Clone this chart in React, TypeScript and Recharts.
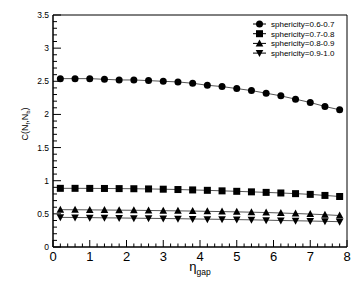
import React from "react";
import { LineChart, Line, XAxis, YAxis, ReferenceArea } from "recharts";

const etaGap = [0.2, 0.6, 1.0, 1.4, 1.8, 2.2, 2.6, 3.0, 3.4, 3.8, 4.2, 4.6, 5.0, 5.4, 5.8, 6.2, 6.6, 7.0, 7.4, 7.8];
const sph0607 = [2.54, 2.54, 2.54, 2.53, 2.52, 2.52, 2.51, 2.5, 2.49, 2.47, 2.44, 2.42, 2.39, 2.36, 2.32, 2.28, 2.23, 2.18, 2.12, 2.07];
const sph0708 = [0.885, 0.885, 0.884, 0.883, 0.881, 0.879, 0.876, 0.872, 0.867, 0.861, 0.855, 0.847, 0.84, 0.832, 0.824, 0.815, 0.805, 0.794, 0.778, 0.762];
const sph0809 = [0.563, 0.562, 0.56, 0.558, 0.556, 0.554, 0.551, 0.548, 0.545, 0.542, 0.538, 0.534, 0.53, 0.525, 0.52, 0.513, 0.505, 0.497, 0.487, 0.475];
const sph0910 = [0.447, 0.445, 0.443, 0.44, 0.438, 0.435, 0.432, 0.43, 0.427, 0.423, 0.42, 0.417, 0.413, 0.41, 0.405, 0.4, 0.396, 0.392, 0.387, 0.382];

const seriesNames = ["sphericity=0.6-0.7", "sphericity=0.7-0.8", "sphericity=0.8-0.9", "sphericity=0.9-1.0"];
const seriesKeys = ["s1", "s2", "s3", "s4"];
const seriesShapes = ["circle", "square", "triangle", "triangleDown"];

const xMajor = [0, 1, 2, 3, 4, 5, 6, 7, 8];
const yMajor = [0, 0.5, 1, 1.5, 2, 2.5, 3, 3.5];
const xTicks = Array.from({ length: 41 }, (_, i) => Number((i * 0.2).toFixed(1)));
const yTicks = Array.from({ length: 36 }, (_, i) => Number((i * 0.1).toFixed(1)));

const data = etaGap.map((x, i) => ({
  x,
  s1: sph0607[i],
  s2: sph0708[i],
  s3: sph0809[i],
  s4: sph0910[i],
}));

const FONT = "'Liberation Sans', Arial, Helvetica, sans-serif";
const LINE_COLOR = "#555";

function MarkerShape({ cx, cy, shape }: { cx: number; cy: number; shape: string }) {
  const r = 3.5;
  if (shape === "circle") return <circle cx={cx} cy={cy} r={r} fill="#000" />;
  if (shape === "square") return <rect x={cx - 3.5} y={cy - 3.5} width={7} height={7} fill="#000" />;
  if (shape === "triangle")
    return <polygon points={`${cx},${cy - 4} ${cx - 3.8},${cy + 3} ${cx + 3.8},${cy + 3}`} fill="#000" />;
  return <polygon points={`${cx},${cy + 4} ${cx - 3.8},${cy - 3} ${cx + 3.8},${cy - 3}`} fill="#000" />;
}

const makeDot = (shape: string) => (props: any) => {
  const { cx, cy, index } = props;
  if (cx == null || cy == null) return <g key={`d-${shape}-${index}`} />;
  return (
    <g key={`d-${shape}-${index}`}>
      <MarkerShape cx={cx} cy={cy} shape={shape} />
    </g>
  );
};

const XTick = (props: any) => {
  const { x, y, payload } = props;
  const v = payload.value;
  const major = xMajor.some((m) => Math.abs(m - v) < 1e-6);
  return (
    <g>
      <line x1={x} y1={y} x2={x} y2={y - (major ? 7 : 3.5)} stroke="#000" strokeWidth={1} />
      {major && (
        <text x={x} y={y + 14} textAnchor="middle" fontSize={13} fontFamily={FONT} fill="#000">
          {String(v)}
        </text>
      )}
    </g>
  );
};

const YTick = (props: any) => {
  const { x, y, payload } = props;
  const v = payload.value;
  const major = yMajor.some((m) => Math.abs(m - v) < 1e-6);
  return (
    <g>
      <line x1={x} y1={y} x2={x + (major ? 8 : 4)} y2={y} stroke="#000" strokeWidth={1} />
      {major && (
        <text x={x - 4} y={y + 3} textAnchor="end" fontSize={8.5} fontFamily={FONT} fill="#000">
          {String(v)}
        </text>
      )}
    </g>
  );
};

const YLabel = () => (
  <text transform="translate(28,124) rotate(-90)" textAnchor="middle" fontSize={9} fontFamily={FONT} fill="#000">
    <tspan>C(N</tspan>
    <tspan dy={2} fontSize={6}>f</tspan>
    <tspan dy={-2}>,N</tspan>
    <tspan dy={2} fontSize={6}>b</tspan>
    <tspan dy={-2}>)</tspan>
  </text>
);

const XLabel = () => (
  <text x={200} y={271} textAnchor="middle" fontFamily={FONT} fill="#000" fontSize={13}>
    <tspan>η</tspan>
    <tspan dy={4} fontSize={8.5}>gap</tspan>
  </text>
);

const LegendBox = () => (
  <svg width={100} height={42} style={{ position: "absolute", left: 251, top: 19, display: "block" }}>
    {seriesNames.map((name, i) => {
      const cy = 5 + i * 9.7;
      return (
        <g key={name}>
          <line x1={2} y1={cy} x2={15} y2={cy} stroke="#000" strokeWidth={1} />
          <MarkerShape cx={8.5} cy={cy} shape={seriesShapes[i]} />
          <text x={20} y={cy + 3} fontSize={8} fontFamily={FONT} fill="#000">
            {name}
          </text>
        </g>
      );
    })}
  </svg>
);

export default function App() {
  return (
    <div style={{ position: "absolute", left: 0, top: 0, width: 355, height: 291, background: "#fff" }}>
      <LineChart width={355} height={291} data={data} margin={{ top: 15, right: 8, left: 0, bottom: 0 }}>
        <XAxis
          type="number"
          dataKey="x"
          domain={[0, 8]}
          ticks={xTicks}
          interval={0}
          tickSize={0}
          tickMargin={0}
          tickLine={false}
          axisLine={{ stroke: "#000" }}
          tick={<XTick />}
          height={44}
          label={<XLabel />}
          allowDataOverflow
        />
        <YAxis
          type="number"
          domain={[0, 3.5]}
          ticks={yTicks}
          interval={0}
          tickSize={0}
          tickMargin={0}
          tickLine={false}
          axisLine={{ stroke: "#000" }}
          tick={<YTick />}
          width={53}
          label={<YLabel />}
          allowDataOverflow
        />
        <ReferenceArea x1={0} x2={8} y1={0} y2={3.5} fill="none" stroke="#000" strokeWidth={1} ifOverflow="visible" />
        {seriesKeys.map((k, i) => (
          <Line
            key={k}
            dataKey={k}
            name={seriesNames[i]}
            stroke={LINE_COLOR}
            strokeWidth={1}
            dot={makeDot(seriesShapes[i])}
            activeDot={false}
            isAnimationActive={false}
            type="linear"
          />
        ))}
      </LineChart>
      <LegendBox />
    </div>
  );
}
